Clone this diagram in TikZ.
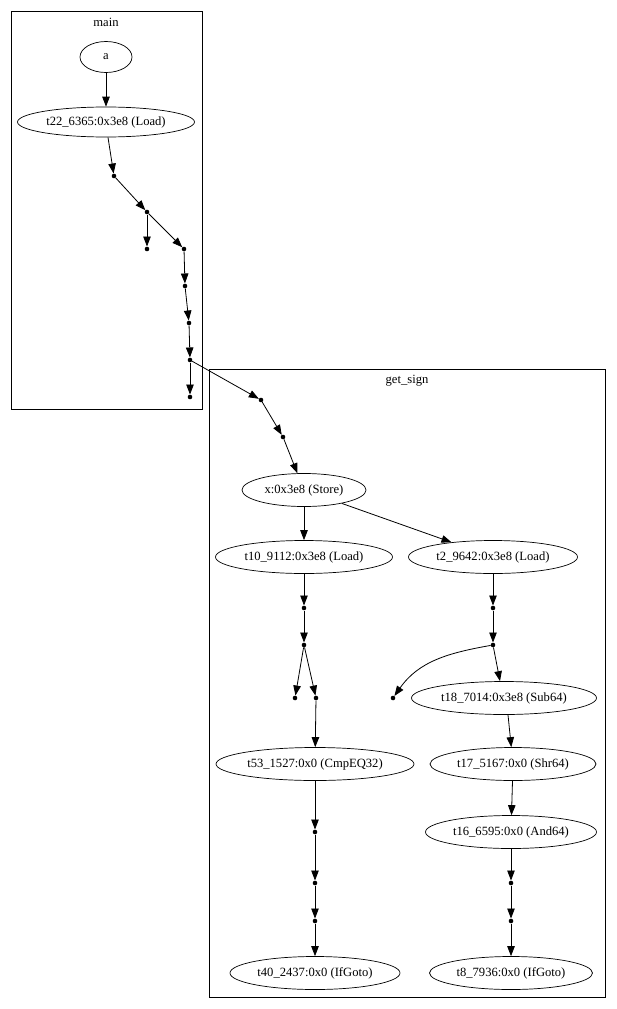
\documentclass[tikz,border=0pt]{standalone}
\usepackage{fontspec}
\setmainfont{Liberation Serif}
\usetikzlibrary{shapes.geometric,arrows.meta}
\begin{document}
\begin{tikzpicture}[x=1pt,y=-1pt,
  every node/.style={font=\fontsize{12.6}{14}\selectfont},
  op/.style={draw,ellipse,line width=0.7pt,inner sep=0pt,minimum height=33pt},
  dot/.style={circle,fill,inner sep=0pt,minimum size=4.6pt},
  cluster/.style={draw,line width=0.8pt},
  e/.style={line width=0.8pt,-{Triangle[length=10pt,width=7.5pt]}}]
\useasboundingbox (0,0) rectangle (616,1009);
% clusters
\draw[cluster] (11,11) rectangle (202,409);
\node (tmain) at (106,22) {main};
\draw[cluster] (209,369) rectangle (605,997);
\node (tget) at (407,381) {get\_sign};
% main nodes
\node[op,minimum width=52pt,minimum height=31pt] (a) at (106,57) {a};
\node[op,minimum width=177pt,minimum height=30pt] (t22) at (106,122) {t22\_6365:0x3e8 (Load)};
\node[dot] (p1) at (114,176) {};
\node[dot] (p2) at (147,212) {};
\node[dot] (p3) at (147,249) {};
\node[dot] (p4) at (184,249) {};
\node[dot] (p5) at (185,286) {};
\node[dot] (p6) at (189,323) {};
\node[dot] (p7) at (190,360) {};
\node[dot] (p8) at (190,397) {};
% get_sign nodes
\node[dot] (q1) at (261,400) {};
\node[dot] (q2) at (283,437) {};
\node[op,minimum width=124pt] (st) at (304,490) {x:0x3e8 (Store)};
\node[op,minimum width=177pt] (t10) at (304,557) {t10\_9112:0x3e8 (Load)};
\node[op,minimum width=169pt] (t2) at (493,557) {t2\_9642:0x3e8 (Load)};
\node[dot] (r1) at (304,608) {};
\node[dot] (r2) at (304,645) {};
\node[dot] (r3) at (295,698) {};
\node[dot] (r4) at (316,698) {};
\node[dot] (s1) at (493,608) {};
\node[dot] (s2) at (493,645) {};
\node[dot] (s3) at (393,698) {};
\node[op,minimum width=185pt] (t18) at (504,698) {t18\_7014:0x3e8 (Sub64)};
\node[op,minimum width=198pt] (t53) at (315,764) {t53\_1527:0x0 (CmpEQ32)};
\node[op,minimum width=166pt] (t17) at (513,764) {t17\_5167:0x0 (Shr64)};
\node[op,minimum width=171pt] (t16) at (511,832) {t16\_6595:0x0 (And64)};
\node[dot] (u1) at (315,832) {};
\node[dot] (u2) at (315,883) {};
\node[dot] (u3) at (315,921) {};
\node[op,minimum width=170pt] (t40) at (315,973) {t40\_2437:0x0 (IfGoto)};
\node[dot] (v1) at (511,883) {};
\node[dot] (v2) at (511,921) {};
\node[op,minimum width=163pt] (t8) at (511,973) {t8\_7936:0x0 (IfGoto)};
% edges main
\draw[e] (a) -- (t22);
\draw[e] (t22.south -| 108,0) -- (p1);
\draw[e] (p1) -- (p2);
\draw[e] (p2) -- (p3);
\draw[e] (p2) -- (p4);
\draw[e] (p4) -- (p5);
\draw[e] (p5) -- (p6);
\draw[e] (p6) -- (p7);
\draw[e] (p7) -- (p8);
\draw[e] (p7) -- (q1);
% edges get_sign
\draw[e] (q1) -- (q2);
\draw[e] (q2) -- (st);
\draw[e] (st) -- (t10);
\draw[e] (st) -- (t2);
\draw[e] (t10) -- (r1);
\draw[e] (r1) -- (r2);
\draw[e] (r2) -- (r3);
\draw[e] (r2) -- (r4);
\draw[e] (r4) -- (t53);
\draw[e] (t53) -- (u1);
\draw[e] (u1) -- (u2);
\draw[e] (u2) -- (u3);
\draw[e] (u3) -- (t40);
\draw[e] (t2) -- (s1);
\draw[e] (s1) -- (s2);
\draw[e] (s2) to[out=190,in=55] (s3);
\draw[e] (s2) -- (t18.north -| 500,0);
\draw[e] (t18.south -| 508,0) -- (t17);
\draw[e] (t17) -- (t16);
\draw[e] (t16) -- (v1);
\draw[e] (v1) -- (v2);
\draw[e] (v2) -- (t8);
\end{tikzpicture}
\end{document}
